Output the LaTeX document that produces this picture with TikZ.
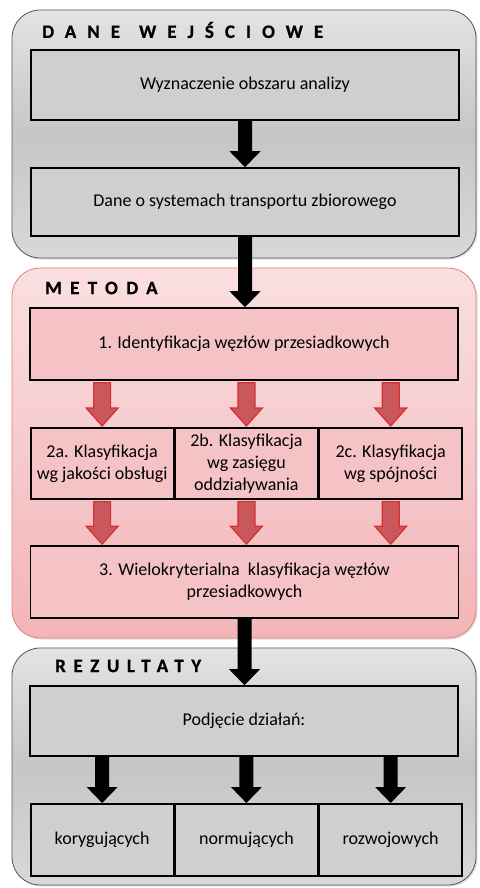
\documentclass[tikz,border=0pt]{standalone}
\usepackage{fontspec}
\setmainfont{Carlito}
\newfontfamily\headfont[FakeBold=0.8]{Carlito Bold}
\usepackage{tikz}
\usetikzlibrary{arrows.meta,positioning,calc,shadows}
\definecolor{greytop}{HTML}{E2E3E4}
\definecolor{greymid}{HTML}{C4C6C8}
\definecolor{greybottom}{HTML}{D6D8DA}
\definecolor{greyline}{HTML}{555555}
\definecolor{pinktop}{HTML}{FADFE0}
\definecolor{pinkbottom}{HTML}{F3B4B7}
\definecolor{pinkline}{HTML}{E08080}
\definecolor{pinkbox}{HTML}{F5C3C6}
\definecolor{arrowfill}{HTML}{C9575B}
\definecolor{arrowline}{HTML}{D6302A}

% block arrow from one anchor down to another
\newcommand{\blockarrow}[3]{%
  \path[#1] let \p1=(#2), \p2=(#3) in
    (\x1-\shaft,\y1) -- (\x1+\shaft,\y1) -- (\x1+\shaft,\y2+\headlen)
    -- (\x1+\headw,\y2+\headlen) -- (\x1,\y2) -- (\x1-\headw,\y2+\headlen)
    -- (\x1-\shaft,\y2+\headlen) -- cycle;}
\newcommand{\shaft}{7pt}
\newcommand{\headw}{15.5pt}
\newcommand{\headlen}{16pt}

\begin{document}
\begin{tikzpicture}[
    x=1pt, y=-1pt,
    every node/.style={font=\fontsize{18}{22}\selectfont},
    panelgrey/.style={draw=greyline, line width=0.8pt, rounded corners=28pt,
        top color=greytop, bottom color=greybottom, middle color=greymid,
        drop shadow={opacity=0.25, shadow xshift=1.5pt, shadow yshift=-1.5pt}},
    panelpink/.style={draw=pinkline, line width=0.8pt, rounded corners=28pt,
        top color=pinktop, bottom color=pinkbottom,
        drop shadow={opacity=0.25, shadow xshift=1.5pt, shadow yshift=-1.5pt}},
    greybox/.style={draw=black, line width=1.6pt, fill=greymid!70!greytop,
        minimum width=428pt, minimum height=70pt, align=center, inner sep=1pt},
    pinkbox/.style={greybox, fill=pinkbox},
    thirdbox/.style={minimum width=142.67pt, minimum height=71pt},
    heading/.style={anchor=west, inner sep=0pt,
        font=\headfont\fontsize{19}{20}\selectfont\addfontfeature{LetterSpace=#1}},
    blackarrow/.style={fill=black},
    redarrow/.style={fill=arrowfill, draw=arrowline, line width=1.2pt}
]
    \useasboundingbox (0,0) rectangle (479,888);

    % === DANE WEJSCIOWE ===
    \path[panelgrey] (12,10) rectangle (476,258);
    \node[heading=58] (headin) at (42,30) {DANE\hspace{19pt}WEJŚCIOWE};
    \node[greybox] (area) at (245,85) {Wyznaczenie obszaru analizy};
    \node[greybox, minimum height=68pt] (data) at (245,202) {Dane o systemach transportu zbiorowego};

    % === METODA ===
    \path[panelpink] (12,268) rectangle (476,638);
    \node[heading=44] (headmet) at (45,288) {METODA};
    \node[pinkbox, minimum height=72pt] (ident) at (244,344) {1. Identyfikacja węzłów przesiadkowych};
    \node[pinkbox, thirdbox, anchor=north west] (quality) at (30,427) {2a. Klasyfikacja\\wg jakości obsługi};
    \node[pinkbox, thirdbox, right=0pt of quality] (range) {2b. Klasyfikacja\\wg zasięgu\\oddziaływania};
    \node[pinkbox, thirdbox, right=0pt of range] (cohesion) {2c. Klasyfikacja\\wg spójności};
    \node[pinkbox, minimum height=72pt] (multi) at (244.5,582) {3. Wielokryterialna\ \ klasyfikacja węzłów\\przesiadkowych};

    % === REZULTATY ===
    \path[panelgrey] (12,648) rectangle (476,885);
    \node[heading=40] (headres) at (55,666) {REZULTATY};
    \node[greybox] (action) at (244,721) {Podjęcie działań:};
    \node[greybox, thirdbox, minimum height=72pt, anchor=north west] (correct) at (30,803) {korygujących};
    \node[greybox, thirdbox, minimum height=72pt, right=0pt of correct] (norm) {normujących};
    \node[greybox, thirdbox, minimum height=72pt, right=0pt of norm] (develop) {rozwojowych};

    % black arrows
    \blockarrow{blackarrow}{area.south}{data.north}
    \blockarrow{blackarrow}{data.south}{ident.north}
    \blockarrow{blackarrow}{multi.south}{action.north}
    \blockarrow{blackarrow}{action.south -| correct}{correct.north}
    \blockarrow{blackarrow}{action.south -| norm}{norm.north}
    \blockarrow{blackarrow}{action.south -| develop}{develop.north}

    % red arrows
    \renewcommand{\shaft}{8.5pt}
    \renewcommand{\headw}{16pt}
    \renewcommand{\headlen}{18pt}
    \blockarrow{redarrow}{$(ident.south -| quality)+(0,2)$}{$(quality.north)+(0,-1)$}
    \blockarrow{redarrow}{$(ident.south -| range)+(0,2)$}{$(range.north)+(0,-1)$}
    \blockarrow{redarrow}{$(ident.south -| cohesion)+(0,2)$}{$(cohesion.north)+(0,-1)$}
    \blockarrow{redarrow}{$(quality.south)+(0,2)$}{$(multi.north -| quality)+(0,-1)$}
    \blockarrow{redarrow}{$(range.south)+(0,2)$}{$(multi.north -| range)+(0,-1)$}
    \blockarrow{redarrow}{$(cohesion.south)+(0,2)$}{$(multi.north -| cohesion)+(0,-1)$}
\end{tikzpicture}
\end{document}
